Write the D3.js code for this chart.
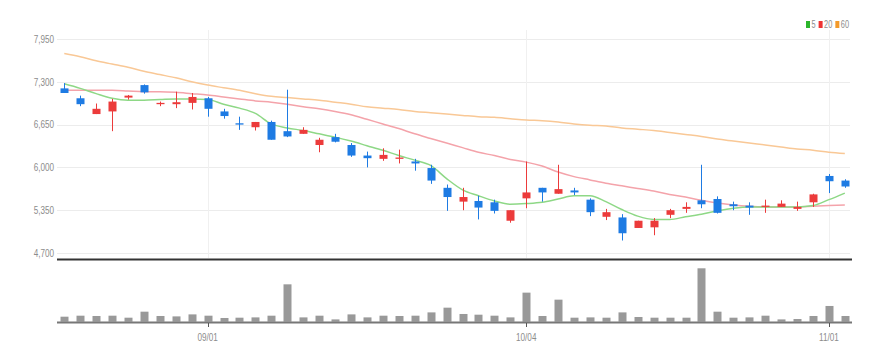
<!DOCTYPE html>
<html>
<head>
  <title>D3</title>
  <meta charset='utf-8'>
  <style>
    body { margin: 0; background: #fff; }
    text { font-family: "Liberation Sans", Arial, sans-serif; fill: #8c8c8c; }
  </style>
</head>
<body>
  <div id="chart"></div>

  <script src="https://cdn.jsdelivr.net/npm/d3@7"></script>

  <script type="text/javascript">
    var width = 888,
        height = 362;

    // trading days shown on the chart
    var dates = ["08/21","08/22","08/23","08/24","08/25","08/28","08/29","08/30","08/31","09/01",
                 "09/04","09/05","09/06","09/07","09/08","09/11","09/12","09/13","09/14","09/15",
                 "09/18","09/19","09/20","09/21","09/22","09/25","09/26","09/27","09/28","10/04",
                 "10/05","10/06","10/10","10/11","10/12","10/13","10/16","10/17","10/18","10/19",
                 "10/20","10/23","10/24","10/25","10/26","10/27","10/30","10/31","11/01","11/02"];
    var xTicks = ["09/01", "10/04", "11/01"];
    var yTicks = [4700, 5350, 6000, 6650, 7300, 7950];

    var open  = [7200,7050,6810,6850,7060,7250,6960,6960,6980,7050, 6850,6670,6610,6690,6550,6510,6340,6460,6340,6180,
                 6130,6130,6090,5990,5690,5480,5490,5470,5190,5530, 5690,5600,5650,5510,5250,5240,5080,5090,5280,5370,
                 5500,5520,5440,5420,5400,5400,5370,5470,5870,5800];
    var high  = [7280,7090,6970,7040,7100,7260,7000,7150,7130,7070, 6890,6770,6690,6710,7180,6610,6450,6510,6370,6240,
                 6290,6270,6130,6040,5740,5690,5570,5510,5350,6090, 5690,6040,5690,5530,5370,5290,5190,5230,5370,5470,
                 6040,5560,5480,5470,5510,5500,5480,5600,5900,5820];
    var low   = [7130,6930,6810,6550,7030,7120,6930,6900,6880,6770, 6740,6570,6560,6420,6460,6510,6230,6380,6160,6000,
                 6100,6060,5950,5750,5340,5350,5210,5300,5160,5380, 5480,5600,5580,5260,5200,4890,5080,4970,5230,5310,
                 5380,5300,5350,5280,5310,5400,5340,5400,5610,5690];
    var close = [7130,6960,6890,7000,7090,7140,6980,6990,7070,6890, 6780,6650,6690,6420,6470,6570,6420,6390,6180,6140,
                 6190,6150,6060,5800,5550,5550,5390,5340,5350,5620, 5620,5670,5620,5320,5320,5000,5190,5190,5350,5400,
                 5440,5310,5410,5390,5420,5450,5400,5590,5790,5710];

    // moving averages as they appear on the chart
    var ma5  = [7270,7200,7120,7050,7020,7020,7030,7040,7040,7030, 6960,6900,6820,6660,6600,6560,6510,6460,6400,6330,
                6260,6180,6110,6030,5830,5660,5570,5490,5440,5450, 5470,5520,5570,5570,5480,5360,5260,5210,5210,5250,
                5290,5340,5380,5400,5400,5400,5400,5420,5510,5610];
    var ma20 = [7170,7170,7170,7170,7160,7150,7150,7140,7120,7100, 7070,7040,7010,6990,6960,6920,6890,6850,6800,6730,
                6660,6590,6510,6440,6370,6300,6230,6180,6120,6080, 6020,5930,5860,5810,5760,5720,5680,5640,5590,5550,
                5500,5460,5430,5410,5400,5400,5400,5410,5420,5430];
    var ma60 = [7730,7680,7620,7570,7520,7460,7410,7360,7300,7250, 7210,7170,7120,7080,7060,7040,7020,6990,6960,6920,
                6900,6880,6850,6830,6810,6790,6770,6760,6740,6720, 6710,6690,6660,6640,6630,6600,6580,6560,6530,6500,
                6470,6430,6400,6370,6340,6310,6280,6260,6230,6210];

    var volume = [50000,60000,57000,60000,40000,100000,57000,53000,73000,60000,
                  37000,40000,43000,60000,373000,43000,60000,23000,73000,43000,
                  60000,57000,60000,93000,140000,77000,70000,60000,43000,290000,
                  57000,220000,40000,43000,40000,93000,47000,40000,40000,40000,
                  533000,100000,40000,43000,60000,23000,27000,57000,157000,57000];

    var maColors = ["#8ed886", "#f4a3aa", "#f9c896"],
        maLabels = ["5", "20", "60"],
        upColor = "#ec3b3b",
        downColor = "#1e7be3";

    var left = 57, right = 850;

    var svg = d3.select("#chart")
                .append("svg")
                .attr("width", width)
                .attr("height", height);

    var x = d3.scaleBand()
              .domain(dates)
              .range([56.3, 852.8]);

    var cx = function(d) { return x(d) + x.bandwidth() / 2; };

    var y = d3.scaleLinear()
              .domain([4700, 7950])
              .range([253, 39]);

    var yv = d3.scaleLinear()
               .domain([0, 533000])
               .range([321.7, 268.3]);

    // narrow labels: squeeze the glyphs horizontally around their anchor
    function narrow(px, py) {
      return "translate(" + px + "," + py + ") scale(0.74,1)";
    }

    // horizontal grid + price labels
    svg.append("g")
        .selectAll("line")
        .data(yTicks)
        .enter()
        .append("line")
        .attr("x1", left).attr("x2", right)
        .attr("y1", function(d) { return Math.round(y(d)) + 0.5; })
        .attr("y2", function(d) { return Math.round(y(d)) + 0.5; })
        .style("stroke", "#ececec");

    svg.append("g")
        .selectAll("text")
        .data(yTicks)
        .enter()
        .append("text")
        .attr("transform", function(d) { return narrow(54, y(d)); })
        .attr("dy", "0.35em")
        .attr("text-anchor", "end")
        .style("font-size", "11px")
        .text(function(d) { return d3.format(",")(d); });

    // vertical grid at date labels
    svg.append("g")
        .selectAll("line")
        .data(xTicks)
        .enter()
        .append("line")
        .attr("x1", function(d) { return Math.round(cx(d)) + 0.5; })
        .attr("x2", function(d) { return Math.round(cx(d)) + 0.5; })
        .attr("y1", 30).attr("y2", 258)
        .style("stroke", "#f0f0f0");

    // moving average lines, longest first
    var series = [ma5, ma20, ma60];
    [2, 1, 0].forEach(function(k) {
      var line = d3.line()
                   .x(function(d, i) { return cx(dates[i]); })
                   .y(function(d) { return y(d); })
                   .curve(d3.curveMonotoneX);
      svg.append("path")
          .datum(series[k])
          .attr("d", line)
          .style("fill", "none")
          .style("stroke", maColors[k])
          .style("stroke-width", "1.5px");
    });

    // candles
    var candle = svg.append("g")
        .selectAll("g")
        .data(dates)
        .enter()
        .append("g")
        .style("fill", function(d, i) { return close[i] >= open[i] ? upColor : downColor; })
        .style("stroke", function(d, i) { return close[i] >= open[i] ? upColor : downColor; });

    candle.append("line")
        .attr("x1", function(d) { return Math.round(cx(d)) + 0.5; })
        .attr("x2", function(d) { return Math.round(cx(d)) + 0.5; })
        .attr("y1", function(d, i) { return y(high[i]); })
        .attr("y2", function(d, i) { return y(low[i]); })
        .style("stroke-width", "1px");

    candle.append("rect")
        .attr("x", function(d) { return Math.round(cx(d)) - 3.5; })
        .attr("width", 8)
        .attr("y", function(d, i) { return y(Math.max(open[i], close[i])); })
        .attr("height", function(d, i) { return Math.max(1.2, Math.abs(y(open[i]) - y(close[i]))); })
        .style("stroke", "none");

    // separator between panels
    svg.append("line")
        .attr("x1", left).attr("x2", 852)
        .attr("y1", 259.5).attr("y2", 259.5)
        .style("stroke", "#333")
        .style("stroke-width", "2px");

    // volume bars
    svg.append("g")
        .selectAll("rect")
        .data(volume)
        .enter()
        .append("rect")
        .attr("x", function(d, i) { return Math.round(cx(dates[i])) - 3.5; })
        .attr("width", 8)
        .attr("y", function(d) { return yv(d); })
        .attr("height", function(d) { return yv(0) - yv(d); })
        .style("fill", "#999");

    svg.append("line")
        .attr("x1", left).attr("x2", 852)
        .attr("y1", 322.5).attr("y2", 322.5)
        .style("stroke", "#777")
        .style("stroke-width", "2px");

    // date ticks + labels
    svg.append("g")
        .selectAll("line")
        .data(xTicks)
        .enter()
        .append("line")
        .attr("x1", function(d) { return Math.round(cx(d)) + 0.5; })
        .attr("x2", function(d) { return Math.round(cx(d)) + 0.5; })
        .attr("y1", 323).attr("y2", 327)
        .style("stroke", "#555");

    svg.append("g")
        .selectAll("text")
        .data(xTicks)
        .enter()
        .append("text")
        .attr("transform", function(d) { return narrow(cx(d), 337.5); })
        .attr("dy", "0.35em")
        .attr("text-anchor", "middle")
        .style("font-size", "11px")
        .text(function(d) { return d; });

    // legend
    var legend = svg.append("g")
        .attr("transform", "translate(806,21)");
    var lx = 0;
    maLabels.forEach(function(lbl, k) {
      legend.append("rect")
          .attr("x", lx).attr("y", 0)
          .attr("width", 4).attr("height", 7)
          .style("fill", ["#2bb52b", "#ee3333", "#f39a2b"][k]);
      var t = legend.append("text")
          .attr("transform", narrow(lx + 5.5, 7))
          .style("font-size", "10px")
          .text(lbl);
      lx += 5.5 + t.node().getComputedTextLength() * 0.74 + 3;
    });
  </script>
</body>
</html>
